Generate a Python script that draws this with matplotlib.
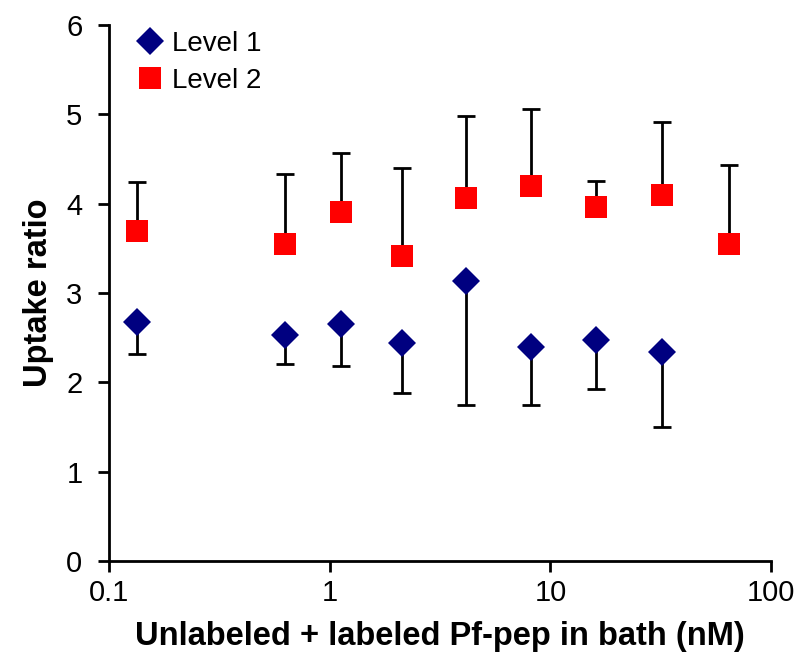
import matplotlib
matplotlib.use("Agg")
import matplotlib.pyplot as plt

plt.rcParams['font.family'] = ['Liberation Sans', 'DejaVu Sans']

# concentrations (nM)
conc_1 = [0.134, 0.63, 1.13, 2.13, 4.13, 8.13, 16.1, 32.1]
conc_2 = [0.134, 0.63, 1.13, 2.13, 4.13, 8.13, 16.1, 32.1, 64.1]

# uptake ratio, level 1 (errors shown downward)
level1 = [2.68, 2.53, 2.65, 2.44, 3.14, 2.40, 2.47, 2.34]
level1_err = [0.36, 0.32, 0.47, 0.56, 1.39, 0.65, 0.54, 0.84]

# uptake ratio, level 2 (errors shown upward)
level2 = [3.69, 3.55, 3.91, 3.42, 4.07, 4.20, 3.96, 4.10, 3.55]
level2_err = [0.55, 0.78, 0.66, 0.98, 0.91, 0.86, 0.29, 0.82, 0.88]

xticks = [0.1, 1, 10, 100]
xticklabels = ["0.1", "1", "10", "100"]
yticks = [0, 1, 2, 3, 4, 5, 6]

fig = plt.figure(figsize=(8, 6.63), dpi=100)
ax = fig.add_axes([0.136, 0.154, 0.828, 0.808])

# error bars (one sided)
ax.errorbar(conc_1, level1, yerr=[level1_err, [0] * len(level1)], fmt='none',
            ecolor='black', elinewidth=2, capsize=6.5, capthick=2, zorder=2)
ax.errorbar(conc_2, level2, yerr=[[0] * len(level2), level2_err], fmt='none',
            ecolor='black', elinewidth=2, capsize=6.5, capthick=2, zorder=2)

ax.plot(conc_1, level1, 'D', color='#000080', markersize=14,
        markeredgewidth=0, linestyle='none', label='Level 1', zorder=3)
ax.plot(conc_2, level2, 's', color='#ff0000', markersize=16,
        markeredgewidth=0, linestyle='none', label='Level 2', zorder=3)

ax.set_xscale('log')
ax.set_xlim(0.1, 100)
ax.set_ylim(0, 6)
ax.set_xticks(xticks)
ax.set_xticklabels(xticklabels)
ax.minorticks_off()
ax.set_yticks(yticks)

for s in ['top', 'right']:
    ax.spines[s].set_visible(False)
for s in ['left', 'bottom']:
    ax.spines[s].set_linewidth(2)

ax.tick_params(axis='both', direction='out', length=8, width=2,
               labelsize=21, colors='black')
ax.tick_params(axis='x', pad=5)
ax.tick_params(axis='y', pad=11)

ax.set_xlabel('Unlabeled + labeled Pf-pep in bath (nM)', fontsize=23.5, fontweight='bold')
ax.set_ylabel('Uptake ratio', fontsize=23.5, fontweight='bold')
ax.xaxis.set_label_coords(0.5, -0.113)
ax.yaxis.set_label_coords(-0.083, 0.5)

ax.legend(loc='upper left', bbox_to_anchor=(0.02, 1.01), frameon=False,
          fontsize=20, handletextpad=0.2, labelspacing=0.4, borderaxespad=0,
          handlelength=1.2)

fig.savefig('out.png', dpi=100)
